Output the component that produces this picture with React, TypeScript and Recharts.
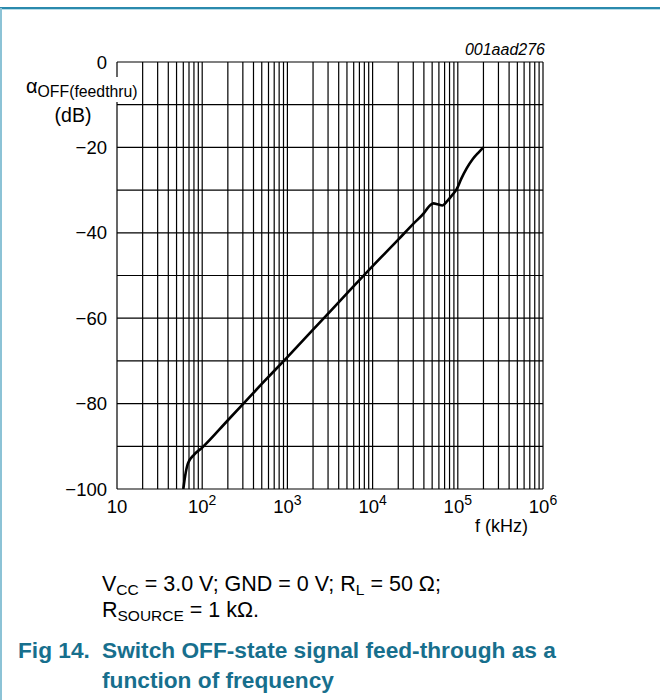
import React from 'react';
import { LineChart, Line, XAxis, YAxis, CartesianGrid } from 'recharts';

// frequency in kHz, attenuation in dB
const freq = [60, 63, 68, 80, 100, 200, 500, 1000, 2000, 5000, 10000, 20000, 30000, 40000, 46000, 52000, 58000, 66000, 75000, 85000, 97000, 110000, 127000, 150000, 175000, 200000];
const atten = [-100, -97, -94, -92, -90.3, -83.9, -75.4, -69.1, -62.7, -54.2, -47.8, -41.6, -37.9, -35.4, -33.8, -33.1, -33.3, -33.6, -32.6, -31.3, -29.8, -27.3, -24.9, -22.7, -21.2, -20];

const decades = [10, 100, 1000, 10000, 100000, 1000000];
const decadeLabels = ['10', '10|2', '10|3', '10|4', '10|5', '10|6'];
const minorSteps = [1, 2, 3, 4, 5, 6, 7, 8, 9];
const yTicks = [-100, -90, -80, -70, -60, -50, -40, -30, -20, -10, 0];
const yLabelTicks = [0, -20, -40, -60, -80, -100];
const yLabels = ['0', '\u221220', '\u221240', '\u221260', '\u221280', '\u2212100'];

const xGridTicks: number[] = [];
decades.slice(0, -1).forEach((d) => minorSteps.forEach((m) => xGridTicks.push(d * m)));
xGridTicks.push(decades[decades.length - 1]);

const data = freq.map((f, i) => ({ f, a: atten[i] }));

const font = '"Liberation Sans", Arial, Helvetica, sans-serif';
const teal = '#176f8d';

const XTick = (props: any) => {
    const { x, y, payload } = props;
    const idx = decades.indexOf(payload.value);
    if (idx < 0) return <g />;
    const [base, exp] = decadeLabels[idx].split('|');
    return (
        <text x={x} y={y + 24} textAnchor="middle" fontSize={18.5} fontFamily={font} fill="#000">
            <tspan>{base}</tspan>
            {exp && <tspan dy={-8} fontSize={14}>{exp}</tspan>}
        </text>
    );
};

const YTick = (props: any) => {
    const { x, y, payload } = props;
    const idx = yLabelTicks.indexOf(payload.value);
    if (idx < 0) return <g />;
    return (
        <text x={x} y={y + 6.5} textAnchor="end" fontSize={18.5} fontFamily={font} fill="#000">
            {yLabels[idx]}
        </text>
    );
};

export default function App() {
    return (
        <div style={{ position: 'absolute', left: 0, top: 0, width: 660, height: 700, background: '#fff', fontFamily: font }}>
            <LineChart width={660} height={560} data={data} margin={{ top: 62, right: 117, bottom: 41, left: 0 }}>
                <CartesianGrid stroke="#000" strokeWidth={1.2} />
                <XAxis
                    dataKey="f"
                    type="number"
                    scale="log"
                    domain={[10, 1000000]}
                    ticks={xGridTicks}
                    interval={0}
                    height={30}
                    tickSize={0}
                    tickMargin={0}
                    axisLine={false}
                    tickLine={false}
                    tick={XTick}
                    allowDataOverflow
                />
                <YAxis
                    type="number"
                    domain={[-100, 0]}
                    ticks={yTicks}
                    interval={0}
                    width={117}
                    tickSize={0}
                    tickMargin={10}
                    axisLine={false}
                    tickLine={false}
                    tick={YTick}
                    allowDataOverflow
                />
                <Line dataKey="a" type="monotone" stroke="#000" strokeWidth={2.6} dot={false} isAnimationActive={false} />
            </LineChart>

            <svg width={660} height={700} style={{ position: 'absolute', left: 0, top: 0, pointerEvents: 'none' }} fontFamily={font}>
                <rect x={0} y={7} width={660} height={2} fill="#2a8aad" />
                <rect x={0} y={9} width={660} height={1} fill="#b9dde8" />
                <rect x={0} y={8} width={2} height={692} fill="#8cc3d6" />

                <text x={545} y={55} textAnchor="end" fontSize={16} fontStyle="italic" fill="#000">001aad276</text>

                <rect x={20} y={77} width={120} height={25} fill="#fff" />
                <text x={26} y={93} fontSize={20} fill="#000">
                    α<tspan dy={4} fontSize={15.8}>OFF(feedthru)</tspan>
                </text>
                <text x={73} y={122} textAnchor="middle" fontSize={19.5} fill="#000">(dB)</text>

                <text x={475} y={532} fontSize={18} fill="#000">f (kHz)</text>

                <text x={102} y={591} fontSize={21.5} fill="#000">
                    V<tspan dy={4} fontSize={15.5}>CC</tspan>
                    <tspan dy={-4}> = 3.0 V; GND = 0 V; R</tspan>
                    <tspan dy={4} fontSize={15.5}>L</tspan>
                    <tspan dy={-4}> = 50 Ω;</tspan>
                </text>
                <text x={102} y={617} fontSize={21.5} fill="#000">
                    R<tspan dy={4} fontSize={15.5}>SOURCE</tspan>
                    <tspan dy={-4}> = 1 kΩ.</tspan>
                </text>

                <text x={18} y={658} fontSize={22.7} fontWeight="bold" fill={teal}>Fig 14.</text>
                <text x={102} y={658} fontSize={22.7} fontWeight="bold" fill={teal}>Switch OFF-state signal feed-through as a</text>
                <text x={102} y={688} fontSize={22.7} fontWeight="bold" fill={teal}>function of frequency</text>
            </svg>
        </div>
    );
}
